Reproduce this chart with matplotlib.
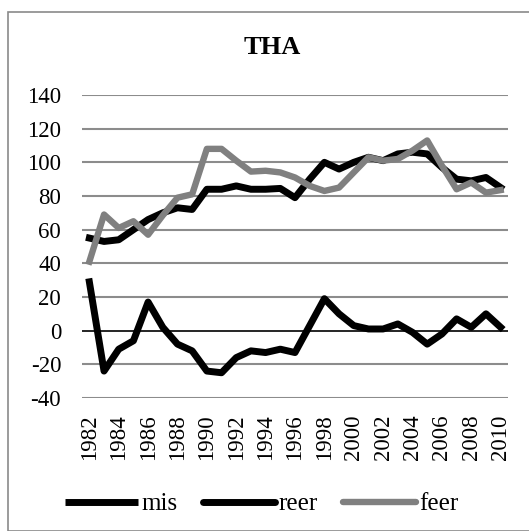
import matplotlib
matplotlib.use("Agg")
import matplotlib.pyplot as plt
from matplotlib.lines import Line2D
from matplotlib.patches import Rectangle
import numpy as np

plt.rcParams["font.family"] = ["Liberation Serif", "DejaVu Serif"]

years = list(range(1982, 2011))
mis = [29, -24, -11, -6, 17, 2, -8, -12, -24, -25, -16, -12, -13, -11, -13,
       3, 19, 10, 3, 1, 1, 4, -1, -8, -2, 7, 2, 10, 2]
reer = [55, 53, 54, 60, 66, 70, 73, 72, 84, 84, 86, 84, 84, 84.5, 79,
        90, 100, 96, 100, 103, 101, 105, 106, 105, 97, 90, 89, 91, 85]
feer = [41, 69, 61, 65, 57, 68.5, 79, 81, 108, 108, 101, 94.5, 95, 94, 91,
        86, 83, 85, 94, 103, 101, 102, 107, 113, 98, 84, 88, 82, 83.5]
yticks = list(range(-40, 141, 20))

W, H = 529, 531
fig = plt.figure(figsize=(W / 100, H / 100), dpi=100)

# chart border (Excel-style frame, cut off at right/bottom)
fig.patches.append(Rectangle((8 / W, 0), 1.2, 1 - 12 / H, transform=fig.transFigure,
                             fill=False, edgecolor="#8a8a8a", linewidth=1.2))

ax = fig.add_axes([82 / W, 1 - 398 / H, 426 / W, 303 / H])
x = np.arange(len(years))

for v in yticks:
    if v == 0:
        ax.axhline(v, color="black", linewidth=1.2, zorder=1)
    else:
        ax.axhline(v, color="#8c8c8c", linewidth=1.5, zorder=1)

ax.plot(x, mis, color="black", linewidth=5.0, solid_joinstyle="round", zorder=3)
ax.plot(x, reer, color="black", linewidth=5.0, solid_joinstyle="round", zorder=3)
ax.plot(x, feer, color="#808080", linewidth=4.6, solid_joinstyle="round", zorder=4)

ax.set_xlim(-0.5, len(years) - 0.5)
ax.set_ylim(-40, 140)
ax.set_yticks(yticks)
ax.set_yticklabels([str(v) for v in yticks], fontsize=16.5)
ax.set_xticks(x[::2])
ax.set_xticklabels([str(y) for y in years[::2]], rotation=90, fontsize=16.5)
ax.tick_params(axis="y", length=0, pad=15)
ax.tick_params(axis="x", length=0, pad=12)
for s in ax.spines.values():
    s.set_visible(False)

fig.text(272 / W, 1 - 47 / H, "THA", ha="center", va="center",
         fontsize=19, fontweight="bold")

handles = [
    Line2D([], [], color="black", linewidth=5.0, solid_capstyle="butt"),
    Line2D([], [], color="black", linewidth=5.0, solid_capstyle="round"),
    Line2D([], [], color="#808080", linewidth=4.6, solid_capstyle="round"),
]
fig.legend(handles, ["mis", "reer", "feer"], loc="center", ncol=3,
           bbox_to_anchor=(262 / W, 1 - 504 / H), frameon=False, fontsize=18,
           handlelength=2.9, handletextpad=0.15, columnspacing=1.0)

fig.savefig("out.png", dpi=100)
